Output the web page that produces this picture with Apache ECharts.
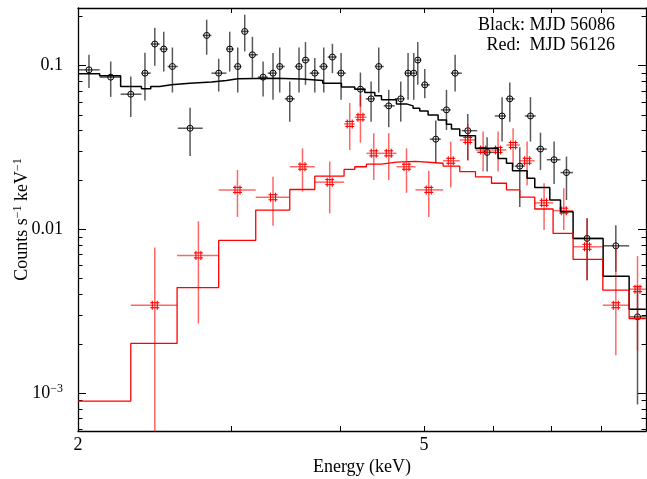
<!DOCTYPE html>
<html>
<head>
<meta charset="utf-8">
<script src="https://cdn.jsdelivr.net/npm/echarts@6.0.0/dist/echarts.min.js"></script>
<style>
  html, body { margin: 0; padding: 0; background: #fff; }
  #chart { width: 647px; height: 479px; }
</style>
</head>
<body>
<div id="chart"></div>
<script>
const lg = Math.log10;
const X_MIN = 2, X_MAX = 9;
const Y_MIN = 5.87e-4, Y_MAX = 0.2244;

// black spectrum (MJD 56086): bin centre and edges in keV, rate and error-bar ends
const blackE = [2.059, 2.181, 2.300, 2.388, 2.451, 2.510, 2.568, 2.691, 2.812, 2.903, 2.989, 3.053, 3.110, 3.174, 3.265, 3.352, 3.412, 3.504, 3.591, 3.653, 3.744, 3.834, 3.923, 4.014, 4.225, 4.346, 4.435, 4.554, 4.701, 4.793, 4.866, 4.918, 5.010, 5.158, 5.306, 5.429, 5.614, 5.909, 6.148, 6.275, 6.443, 6.628, 6.806, 7.056, 7.291, 7.700, 8.309, 8.800];
const blackLo = [2.000, 2.118, 2.239, 2.366, 2.425, 2.483, 2.536, 2.605, 2.783, 2.848, 2.963, 3.021, 3.082, 3.143, 3.219, 3.306, 3.385, 3.458, 3.551, 3.622, 3.694, 3.789, 3.875, 3.968, 4.162, 4.285, 4.389, 4.494, 4.627, 4.751, 4.828, 4.892, 4.964, 5.077, 5.227, 5.367, 5.526, 5.757, 6.031, 6.209, 6.358, 6.529, 6.722, 6.921, 7.176, 7.420, 8.034, 8.607];
const blackHi = [2.118, 2.239, 2.366, 2.425, 2.483, 2.536, 2.605, 2.783, 2.848, 2.963, 3.021, 3.082, 3.143, 3.219, 3.306, 3.385, 3.458, 3.551, 3.622, 3.694, 3.789, 3.875, 3.968, 4.064, 4.285, 4.389, 4.494, 4.627, 4.751, 4.828, 4.892, 4.964, 5.077, 5.227, 5.367, 5.526, 5.757, 6.031, 6.209, 6.358, 6.529, 6.722, 6.921, 7.176, 7.420, 8.034, 8.607, 8.996];
const blackRate = [0.0941, 0.0849, 0.0668, 0.0898, 0.1352, 0.1260, 0.0986, 0.0414, 0.1526, 0.0898, 0.1260, 0.0986, 0.1614, 0.1163, 0.0849, 0.0898, 0.0986, 0.0626, 0.0986, 0.1079, 0.0898, 0.0986, 0.1126, 0.0898, 0.0717, 0.0626, 0.0986, 0.0567, 0.0626, 0.0898, 0.0898, 0.1079, 0.0762, 0.0355, 0.0536, 0.0898, 0.0400, 0.0295, 0.0492, 0.0626, 0.0243, 0.0492, 0.0309, 0.0266, 0.0222, 0.00880, 0.00793, 0.00292];
const blackUp = [0.1163, 0.1058, 0.0856, 0.1196, 0.1701, 0.1608, 0.1288, 0.0553, 0.1904, 0.1099, 0.1608, 0.1288, 0.2042, 0.1498, 0.1058, 0.1191, 0.1288, 0.0798, 0.1288, 0.1390, 0.1110, 0.1288, 0.1357, 0.1191, 0.0906, 0.0798, 0.1288, 0.0710, 0.0798, 0.1191, 0.1191, 0.1390, 0.0951, 0.0461, 0.0710, 0.1163, 0.0506, 0.0365, 0.0641, 0.0787, 0.0317, 0.0641, 0.0389, 0.0343, 0.0278, 0.0117, 0.0106, 0.00456];
const blackDown = [0.0730, 0.0643, 0.0485, 0.0611, 0.0996, 0.0919, 0.0684, 0.0280, 0.1163, 0.0693, 0.0919, 0.0684, 0.1218, 0.0841, 0.0646, 0.0617, 0.0684, 0.0454, 0.0684, 0.0762, 0.0684, 0.0684, 0.0898, 0.0617, 0.0561, 0.0454, 0.0684, 0.0420, 0.0454, 0.0617, 0.0617, 0.0762, 0.0632, 0.0253, 0.0404, 0.0693, 0.0265, 0.0225, 0.0343, 0.0454, 0.0137, 0.0343, 0.0230, 0.0189, 0.0151, 0.00489, 0.00550, 0.000853];

// black model, stepped over its bins
const blackModelEdges = [2.000, 2.118, 2.239, 2.366, 2.425, 2.483, 2.561, 2.689, 2.848, 2.963, 3.053, 3.367, 3.614, 3.824, 4.018, 4.162, 4.274, 4.389, 4.467, 4.648, 4.773, 4.857, 4.944, 5.054, 5.190, 5.306, 5.377, 5.496, 5.730, 6.083, 6.220, 6.320, 6.569, 6.704, 6.976, 7.176, 7.420, 8.034, 8.607, 8.996];
const blackModel = [0.0890, 0.0865, 0.0744, 0.0720, 0.0744, 0.0762, 0.0780, 0.0792, 0.0810, 0.0829, 0.0837, 0.0826, 0.0810, 0.0780, 0.0738, 0.0717, 0.0684, 0.0653, 0.0617, 0.0583, 0.0567, 0.0549, 0.0528, 0.0499, 0.0465, 0.0438, 0.0410, 0.0372, 0.0312, 0.0271, 0.0253, 0.0228, 0.0205, 0.0180, 0.0151, 0.0128, 0.00880, 0.00517, 0.00325];

// red spectrum (MJD 56126)
const redE = [2.451, 2.751, 3.051, 3.352, 3.624, 3.895, 4.107, 4.225, 4.377, 4.554, 4.773, 5.063, 5.367, 5.614, 5.847, 6.083, 6.330, 6.569, 6.871, 7.239, 7.700, 8.309, 8.800];
const redLo = [2.300, 2.600, 2.903, 3.202, 3.504, 3.744, 4.046, 4.162, 4.293, 4.467, 4.648, 4.888, 5.259, 5.496, 5.730, 5.978, 6.220, 6.443, 6.704, 7.037, 7.420, 8.028, 8.607];
const redHi = [2.600, 2.903, 3.202, 3.504, 3.744, 4.046, 4.162, 4.293, 4.467, 4.648, 4.888, 5.259, 5.496, 5.730, 5.978, 6.220, 6.443, 6.704, 7.037, 7.420, 8.028, 8.607, 8.996];
const redRate = [0.00344, 0.00693, 0.0174, 0.0157, 0.0241, 0.0194, 0.0440, 0.0483, 0.0291, 0.0291, 0.0241, 0.0174, 0.0262, 0.0351, 0.0305, 0.0305, 0.0327, 0.0262, 0.0145, 0.0130, 0.00782, 0.00344, 0.00431];
const redUp = [0.00775, 0.0112, 0.0230, 0.0209, 0.0312, 0.0259, 0.0591, 0.0662, 0.0386, 0.0386, 0.0312, 0.0228, 0.0343, 0.0440, 0.0395, 0.0395, 0.0414, 0.0343, 0.0191, 0.0178, 0.0117, 0.00782, 0.00686];
const redDown = [0.0003, 0.00266, 0.0119, 0.0105, 0.0170, 0.0125, 0.0305, 0.0338, 0.0200, 0.0200, 0.0167, 0.0119, 0.0180, 0.0262, 0.0225, 0.0225, 0.0239, 0.0186, 0.00989, 0.00989, 0.00489, 0.00170, 0.00182];

const redModelEdges = [2.000, 2.300, 2.600, 2.903, 3.202, 3.504, 3.744, 4.046, 4.162, 4.293, 4.467, 4.648, 4.888, 5.259, 5.496, 5.730, 5.978, 6.220, 6.443, 6.704, 7.037, 7.420, 8.028, 8.607, 8.996];
const redModel = [0.000893, 0.00201, 0.00441, 0.00855, 0.0131, 0.0175, 0.0211, 0.0232, 0.0241, 0.0250, 0.0257, 0.0260, 0.0253, 0.0243, 0.0225, 0.0209, 0.0191, 0.0174, 0.0157, 0.0133, 0.00944, 0.00655, 0.00425, 0.00285];

// axis ticks
const xTicks = [2, 3, 4, 5, 6, 7, 8, 9];
const xLabels = [2, 5];
const yMajor = [0.001, 0.01, 0.1];
const yMinor = [0.0006, 0.0007, 0.0008, 0.0009, 0.002, 0.003, 0.004, 0.005, 0.006, 0.007, 0.008, 0.009,
  0.02, 0.03, 0.04, 0.05, 0.06, 0.07, 0.08, 0.09, 0.2];

const FONT = "'Liberation Serif', 'Times New Roman', serif";

function points(E, lo, hi, rate, up, down) {
  return E.map((e, i) => [lg(e), lg(lo[i]), lg(hi[i]), lg(rate[i]), lg(up[i]), lg(down[i])]);
}

function steps(edges, vals) {
  const pts = [];
  vals.forEach((v, i) => {
    pts.push([lg(edges[i]), lg(v)], [lg(edges[i + 1]), lg(v)]);
  });
  return pts;
}

function circleMarker(c) {
  return [{ type: 'circle', shape: { cx: c[0], cy: c[1], r: 3 },
    style: { fill: 'none', stroke: '#000', lineWidth: 1 } }];
}

function hashMarker(c) {
  const s = 2.5, e = 4.5;
  const st = { stroke: '#f00', lineWidth: 1.1 };
  return [
    { type: 'line', shape: { x1: c[0] - s, y1: c[1] - e, x2: c[0] - s, y2: c[1] + e }, style: st },
    { type: 'line', shape: { x1: c[0] + s, y1: c[1] - e, x2: c[0] + s, y2: c[1] + e }, style: st },
    { type: 'line', shape: { x1: c[0] - e, y1: c[1] - s, x2: c[0] + e, y2: c[1] - s }, style: st },
    { type: 'line', shape: { x1: c[0] - e, y1: c[1] + s, x2: c[0] + e, y2: c[1] + s }, style: st }
  ];
}

function makeRender(barColor, marker) {
  return function (params, api) {
    const clip = v => Math.min(Math.max(v, lg(Y_MIN)), lg(Y_MAX));
    const y = api.value(3);
    const c = api.coord([api.value(0), y]);
    const l = api.coord([api.value(1), y]);
    const r = api.coord([api.value(2), y]);
    const t = api.coord([api.value(0), clip(api.value(4))]);
    const b = api.coord([api.value(0), clip(api.value(5))]);
    const bar = { stroke: barColor, lineWidth: 1.5 };
    return {
      type: 'group',
      children: [
        { type: 'line', shape: { x1: l[0], y1: c[1], x2: r[0], y2: c[1] }, style: bar },
        { type: 'line', shape: { x1: c[0], y1: t[1], x2: c[0], y2: b[1] }, style: bar }
      ].concat(marker(c))
    };
  };
}

const axisText = { fontFamily: FONT, fontSize: 18, color: '#000' };
const sup = { fontFamily: FONT, fontSize: 12, color: '#000', padding: [0, 0, 8, 0] };

function xAxis(position, showLabels) {
  return {
    type: 'value', position, min: lg(X_MIN), max: lg(X_MAX),
    splitLine: { show: false },
    axisLine: { onZero: false, lineStyle: { color: '#000', width: 1.3 } },
    axisTick: { inside: true, length: 5, customValues: xTicks.map(lg), lineStyle: { color: '#000', width: 1 } },
    axisLabel: {
      show: showLabels, customValues: xLabels.map(lg), margin: 5,
      formatter: v => String(Math.round(Math.pow(10, v))), ...axisText
    },
    name: showLabels ? 'Energy (keV)' : '',
    nameLocation: 'middle', nameGap: 27, nameMoveOverlap: false, nameTextStyle: axisText
  };
}

function yAxis(position, ticks, len, showLabels, showLine) {
  return {
    type: 'value', position, min: lg(Y_MIN), max: lg(Y_MAX),
    splitLine: { show: false },
    axisLine: { show: showLine, onZero: false, lineStyle: { color: '#000', width: 1.3 } },
    axisTick: { inside: true, length: len, customValues: ticks.map(lg), lineStyle: { color: '#000', width: 1 } },
    axisLabel: {
      show: showLabels, customValues: yMajor.map(lg), margin: 15,
      formatter: v => {
        const p = Math.round(v);
        if (p === -1) return '0.1';
        if (p === -2) return '0.01';
        return '10{s|\u2212' + (-p) + '}';
      },
      ...axisText, rich: { s: sup }
    },
    name: showLabels ? 'Counts s{s|\u22121} keV{s|\u22121}' : '',
    nameLocation: 'middle', nameGap: 46, nameMoveOverlap: false,
    nameTextStyle: { ...axisText, rich: { s: sup } }
  };
}

const chart = echarts.init(document.getElementById('chart'));
chart.setOption({
  animation: false,
  backgroundColor: '#fff',
  grid: { left: 78, right: 1, top: 8, bottom: 48, containLabel: false, outerBoundsMode: 'none' },
  xAxis: [xAxis('bottom', true), xAxis('top', false)],
  yAxis: [
    yAxis('left', yMajor, 8, true, true),
    yAxis('left', yMinor, 4.5, false, false),
    yAxis('right', yMajor, 8, false, true),
    yAxis('right', yMinor, 4.5, false, false)
  ],
  graphic: [{
    type: 'text', right: 32, top: 15,
    style: {
      text: 'Black: MJD 56086\nRed:  MJD 56126',
      font: '18px ' + FONT, fill: '#000', textAlign: 'right', lineHeight: 20
    }
  }],
  series: [
    {
      type: 'custom', name: 'black data', renderItem: makeRender('rgba(0,0,0,0.65)', circleMarker),
      data: points(blackE, blackLo, blackHi, blackRate, blackUp, blackDown),
      encode: { x: 0, y: 3 }, z: 3
    },
    {
      type: 'custom', name: 'red data', renderItem: makeRender('rgba(255,0,0,0.6)', hashMarker),
      data: points(redE, redLo, redHi, redRate, redUp, redDown),
      encode: { x: 0, y: 3 }, z: 4
    },
    {
      type: 'line', name: 'black model', data: steps(blackModelEdges, blackModel),
      showSymbol: false, lineStyle: { color: '#000', width: 1.5 }, z: 5
    },
    {
      type: 'line', name: 'red model', data: steps(redModelEdges, redModel),
      showSymbol: false, lineStyle: { color: '#f00', width: 1.3 }, z: 5
    }
  ]
});
</script>
</body>
</html>
